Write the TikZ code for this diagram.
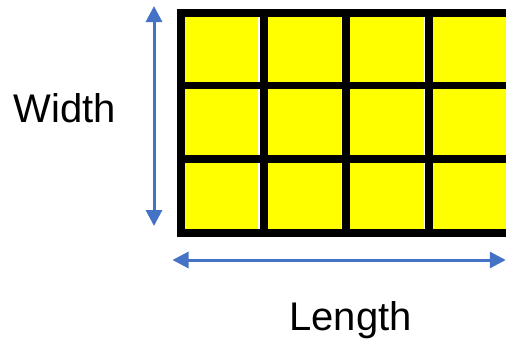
\documentclass[tikz,border=0pt]{standalone}
\usepackage{fontspec}
\setmainfont{Liberation Sans}
\usetikzlibrary{arrows.meta}
\definecolor{dimblue}{HTML}{4472C4}
\definecolor{cellyellow}{HTML}{FFFF00}
\begin{document}
\begin{tikzpicture}[x=1pt,y=-1pt,
  dimarrow/.style={draw=dimblue,line width=3pt,{Triangle[length=16pt,width=16pt]}-{Triangle[length=16pt,width=16pt]}},
  cell/.style={fill=cellyellow,draw=none},
  gap/.style={fill=white,draw=none},
  lbl/.style={font=\fontsize{40}{48}\selectfont,inner sep=0pt,anchor=base}]
\useasboundingbox (0,0) rectangle (506,341);
\begin{scope}
\clip (0,0) rectangle (506,341);
\fill[black] (177,9) rectangle (520,237);
\foreach \ya/\yb in {17/82, 89/155, 163/229}{
  \fill[cell] (185,\ya) rectangle (258.3,\yb);
  \fill[gap] (258.3,\ya) rectangle (260,\yb);
  \fill[cell] (268,\ya) rectangle (341,\yb);
  \fill[gap] (341,\ya) rectangle (342.4,\yb);
  \fill[cell] (350,\ya) rectangle (424,\yb);
  \fill[gap] (424,\ya) rectangle (425.3,\yb);
  \fill[cell] (433,\ya) rectangle (515,\yb);
}
\end{scope}
\coordinate (wtop) at (154,6);
\coordinate (wbot) at (154,226);
\coordinate (lleft) at (172.5,260);
\coordinate (lright) at (505.8,260);
\draw[dimarrow] (wtop) -- (wbot);
\draw[dimarrow] (lleft) -- (lright);
\node[lbl] (width) at (65,122) {Width};
\node[lbl] (length) at (350.5,330) {Length};
\end{tikzpicture}
\end{document}
